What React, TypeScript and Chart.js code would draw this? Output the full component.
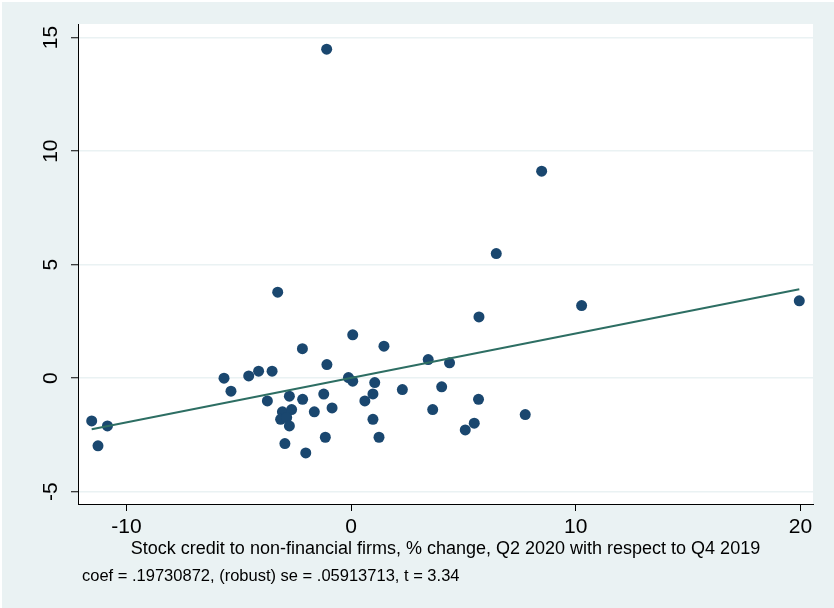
import React, { useEffect, useRef } from "react";
import { Chart, registerables } from "chart.js";

Chart.register(...registerables);

// Horizontal axis: % change of credit stock; vertical axis: residual outcome (added-variable plot)
const xValues = [
  -11.55, -10.85, -11.27, -5.66, -5.35, -4.56, -4.12, -3.52, -3.27, -3.73,
  -2.75, -2.16, -2.17, -3.06, -2.65, -3.14, -2.87, -2.75, -1.64, -2.95,
  -2.02, -1.09, 0.07, 1.46, -1.08, -0.12, 0.07, 1.05, 0.97, 0.61,
  -1.22, -0.85, 0.97, 1.24, -1.15, 2.28, 3.43, 4.38, 4.03, 3.63,
  5.67, 5.48, 5.08, 6.46, 5.69, 10.26, 19.95, 7.75, 8.48,
];
const yValues = [
  -1.88, -2.1, -2.98, 0.0, -0.57, 0.1, 0.31, 0.31, 3.79, -1.0,
  -0.79, -0.93, 1.3, -1.48, -1.38, -1.81, -1.73, -2.1, -1.48, -2.88,
  -3.29, 14.49, 1.91, 1.41, 0.6, 0.03, -0.13, -0.19, -0.69, -1.0,
  -0.7, -1.31, -1.81, -2.6, -2.6, -0.5, 0.82, 0.68, -0.38, -1.38,
  -0.93, -1.98, -2.28, 5.49, 2.7, 3.2, 3.41, -1.6, 9.12,
];
const fitX = [-11.55, 19.95];
const fitY = [-2.25, 3.92];
const xTicks = [-10, 0, 10, 20];
const yTicks = [-5, 0, 5, 10, 15];
const xTitle = "Stock credit to non-financial firms, % change, Q2 2020 with respect to Q4 2019";
const noteText = "coef = .19730872, (robust) se = .05913713, t = 3.34";

const FONT = '"Liberation Sans", Arial, Helvetica, sans-serif';
const BG = "#EAF2F3";

export default function App() {
  const ref = useRef<HTMLCanvasElement>(null);

  useEffect(() => {
    if (!ref.current) return;
    const decor = {
      id: "decor",
      beforeDraw(chart: any) {
        const { ctx, chartArea: a, width, height } = chart;
        ctx.save();
        ctx.fillStyle = "#ffffff";
        ctx.fillRect(0, 0, width, height);
        ctx.fillStyle = BG;
        ctx.fillRect(2, 2, width - 2, height - 2);
        ctx.fillStyle = "#ffffff";
        ctx.fillRect(a.left, a.top, a.right - a.left, a.bottom - a.top);
        ctx.restore();
      },
      afterDraw(chart: any) {
        const { ctx, chartArea: a, scales } = chart;
        ctx.save();
        ctx.fillStyle = "#000";
        ctx.font = `21px ${FONT}`;
        ctx.textAlign = "center";
        ctx.textBaseline = "middle";
        for (const v of yTicks) {
          const y = scales.y.getPixelForValue(v);
          ctx.save();
          ctx.translate(51, y);
          ctx.rotate(-Math.PI / 2);
          ctx.fillText(String(v), 0, 0);
          ctx.restore();
        }
        for (const v of xTicks) {
          const x = scales.x.getPixelForValue(v);
          ctx.fillText(String(v), x, 527);
        }
        ctx.font = `18px ${FONT}`;
        ctx.fillText(xTitle, (a.left + a.right) / 2, 549);
        ctx.font = `16.5px ${FONT}`;
        ctx.textAlign = "left";
        ctx.fillText(noteText, 82, 576);
        ctx.restore();
      },
    };

    const chart = new Chart(ref.current, {
      type: "scatter",
      data: {
        datasets: [
          {
            type: "line",
            data: fitX.map((x, i) => ({ x, y: fitY[i] })),
            borderColor: "#2D6E63",
            borderWidth: 2,
            pointRadius: 0,
            fill: false,
          },
          {
            type: "scatter",
            data: xValues.map((x, i) => ({ x, y: yValues[i] })),
            backgroundColor: "#1A476F",
            borderColor: "#1A476F",
            borderWidth: 0,
            pointRadius: 5.5,
          },
        ],
      },
      options: {
        animation: false,
        responsive: false,
        devicePixelRatio: 1,
        layout: { padding: { top: 24, right: 21, left: 0, bottom: 0 } },
        plugins: { legend: { display: false }, tooltip: { enabled: false } },
        scales: {
          x: {
            type: "linear",
            min: -12.16,
            max: 20.56,
            afterBuildTicks: (s: any) => {
              s.ticks = xTicks.map((v) => ({ value: v }));
            },
            afterFit: (s: any) => {
              s.height = 104;
            },
            ticks: { display: false },
            grid: {
              drawOnChartArea: false,
              drawTicks: true,
              tickLength: 7,
              tickColor: "#000",
              tickWidth: 1,
            },
            border: { display: true, color: "#000", width: 1 },
          },
          y: {
            type: "linear",
            min: -5.54,
            max: 15.6,
            afterBuildTicks: (s: any) => {
              s.ticks = yTicks.map((v) => ({ value: v }));
            },
            afterFit: (s: any) => {
              s.width = 78;
            },
            ticks: { display: false },
            grid: {
              color: BG,
              lineWidth: 1.5,
              drawTicks: true,
              tickLength: 7,
              tickColor: "#000",
              tickWidth: 1,
            },
            border: { display: true, color: "#000", width: 1 },
          },
        },
      },
      plugins: [decor],
    });
    return () => chart.destroy();
  }, []);

  return (
    <div style={{ position: "fixed", left: 0, top: 0, width: 834, height: 608 }}>
      <canvas ref={ref} width={834} height={608} style={{ display: "block" }} />
    </div>
  );
}
